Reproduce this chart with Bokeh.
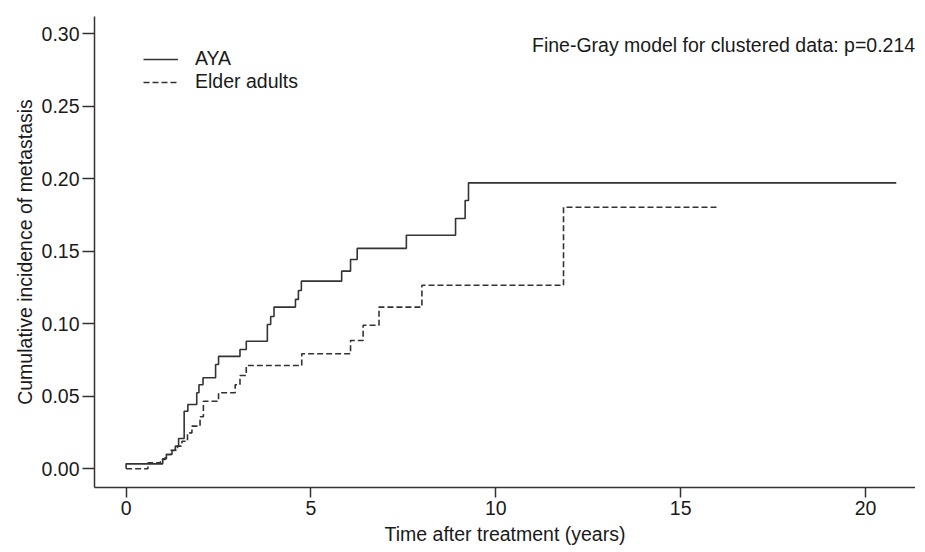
from bokeh.plotting import figure
from bokeh.models import Range1d, FixedTicker, NumeralTickFormatter, Legend, LegendItem, Label
from bokeh.embed import file_html
from bokeh.resources import INLINE

# ---- data ----
times_aya = [0, 0, 0.99, 1.09, 1.24, 1.33, 1.42, 1.57, 1.67, 1.91, 1.97, 2.08, 2.42, 2.50,
             3.08, 3.25, 3.82, 3.91, 4.00, 4.58, 4.66, 4.74, 5.83, 6.07, 6.25, 7.58,
             8.91, 9.17, 9.26, 20.83]
cif_aya = [0, 0.0034, 0.0069, 0.0099, 0.0126, 0.0156, 0.0209, 0.0397, 0.0443, 0.0524, 0.058,
           0.0628, 0.0719, 0.0775, 0.0823, 0.088, 0.0995, 0.105, 0.1115, 0.1168, 0.123,
           0.1294, 0.1363, 0.1443, 0.152, 0.161, 0.1726, 0.185, 0.1972, 0.1972]

times_eld = [0, 0.59, 0.93, 1.06, 1.21, 1.39, 1.51, 1.66, 1.78, 2.00, 2.09, 2.50, 2.95, 3.08,
             3.25, 4.75, 6.07, 6.41, 6.84, 8.00, 11.83, 16.01]
cif_eld = [0, 0.0041, 0.0064, 0.0099, 0.0128, 0.0156, 0.019, 0.0248, 0.0294, 0.0359, 0.0466,
           0.0524, 0.058, 0.0643, 0.0712, 0.0793, 0.0885, 0.099, 0.1115, 0.1266, 0.1804, 0.1804]

series_names = ["AYA", "Elder adults"]
x_ticks = [0, 5, 10, 15, 20]
y_ticks = [0.0, 0.05, 0.10, 0.15, 0.20, 0.25, 0.30]
annotation_text = "Fine-Gray model for clustered data: p=0.214"
x_title = "Time after treatment (years)"
y_title = "Cumulative incidence of metastasis"

FONT = "Liberation Sans"
FS = "19.5px"
INK = "#333333"
TXT = "#1a1a1a"

p = figure(width=915, height=548, output_backend="svg", toolbar_location=None,
           x_range=Range1d(-0.855, 21.35), y_range=Range1d(-0.0129, 0.3119),
           min_border_left=94, min_border_right=0, min_border_top=16, min_border_bottom=61)
p.outline_line_color = None
p.grid.visible = False
p.background_fill_color = "white"
p.border_fill_color = "white"

r_aya = p.step(times_aya, cif_aya, mode="after", line_color=INK, line_width=1.6)
r_eld = p.step(times_eld, cif_eld, mode="after", line_color=INK, line_width=1.6,
               line_dash="6 3")

for ax in (p.xaxis[0], p.yaxis[0]):
    ax.axis_line_color = INK
    ax.axis_line_width = 1.5
    ax.major_tick_line_color = INK
    ax.major_tick_line_width = 1.5
    ax.major_tick_in = 0
    ax.minor_tick_line_color = None
    ax.major_label_text_font = FONT
    ax.major_label_text_font_size = FS
    ax.major_label_text_color = TXT
    ax.axis_label_text_font = FONT
    ax.axis_label_text_font_size = FS
    ax.axis_label_text_font_style = "normal"
    ax.axis_label_text_color = TXT

p.xaxis.ticker = FixedTicker(ticks=x_ticks)
p.yaxis.ticker = FixedTicker(ticks=y_ticks)
p.yaxis.formatter = NumeralTickFormatter(format="0.00")
p.xaxis.axis_label = x_title
p.yaxis.axis_label = y_title
p.xaxis.major_tick_out = 10
p.xaxis.major_label_standoff = 3
p.xaxis.axis_label_standoff = 5
p.yaxis.major_tick_out = 12
p.yaxis.major_label_standoff = 3
p.yaxis.axis_label_standoff = 3

legend = Legend(items=[LegendItem(label=series_names[0], renderers=[r_aya]),
                       LegendItem(label=series_names[1], renderers=[r_eld])],
                location=(49, 394), glyph_width=35, glyph_height=20, label_height=20,
                spacing=-3, label_standoff=17, padding=0, margin=0,
                border_line_color=None, background_fill_alpha=0,
                label_text_font=FONT, label_text_font_size=FS, label_text_color=TXT)
p.add_layout(legend)

p.add_layout(Label(x=21.34, y=0.292, text=annotation_text, text_align="right",
                   text_baseline="alphabetic", text_font=FONT, text_font_size=FS,
                   text_color=TXT))

open("out.html", "w").write(file_html(p, INLINE))
